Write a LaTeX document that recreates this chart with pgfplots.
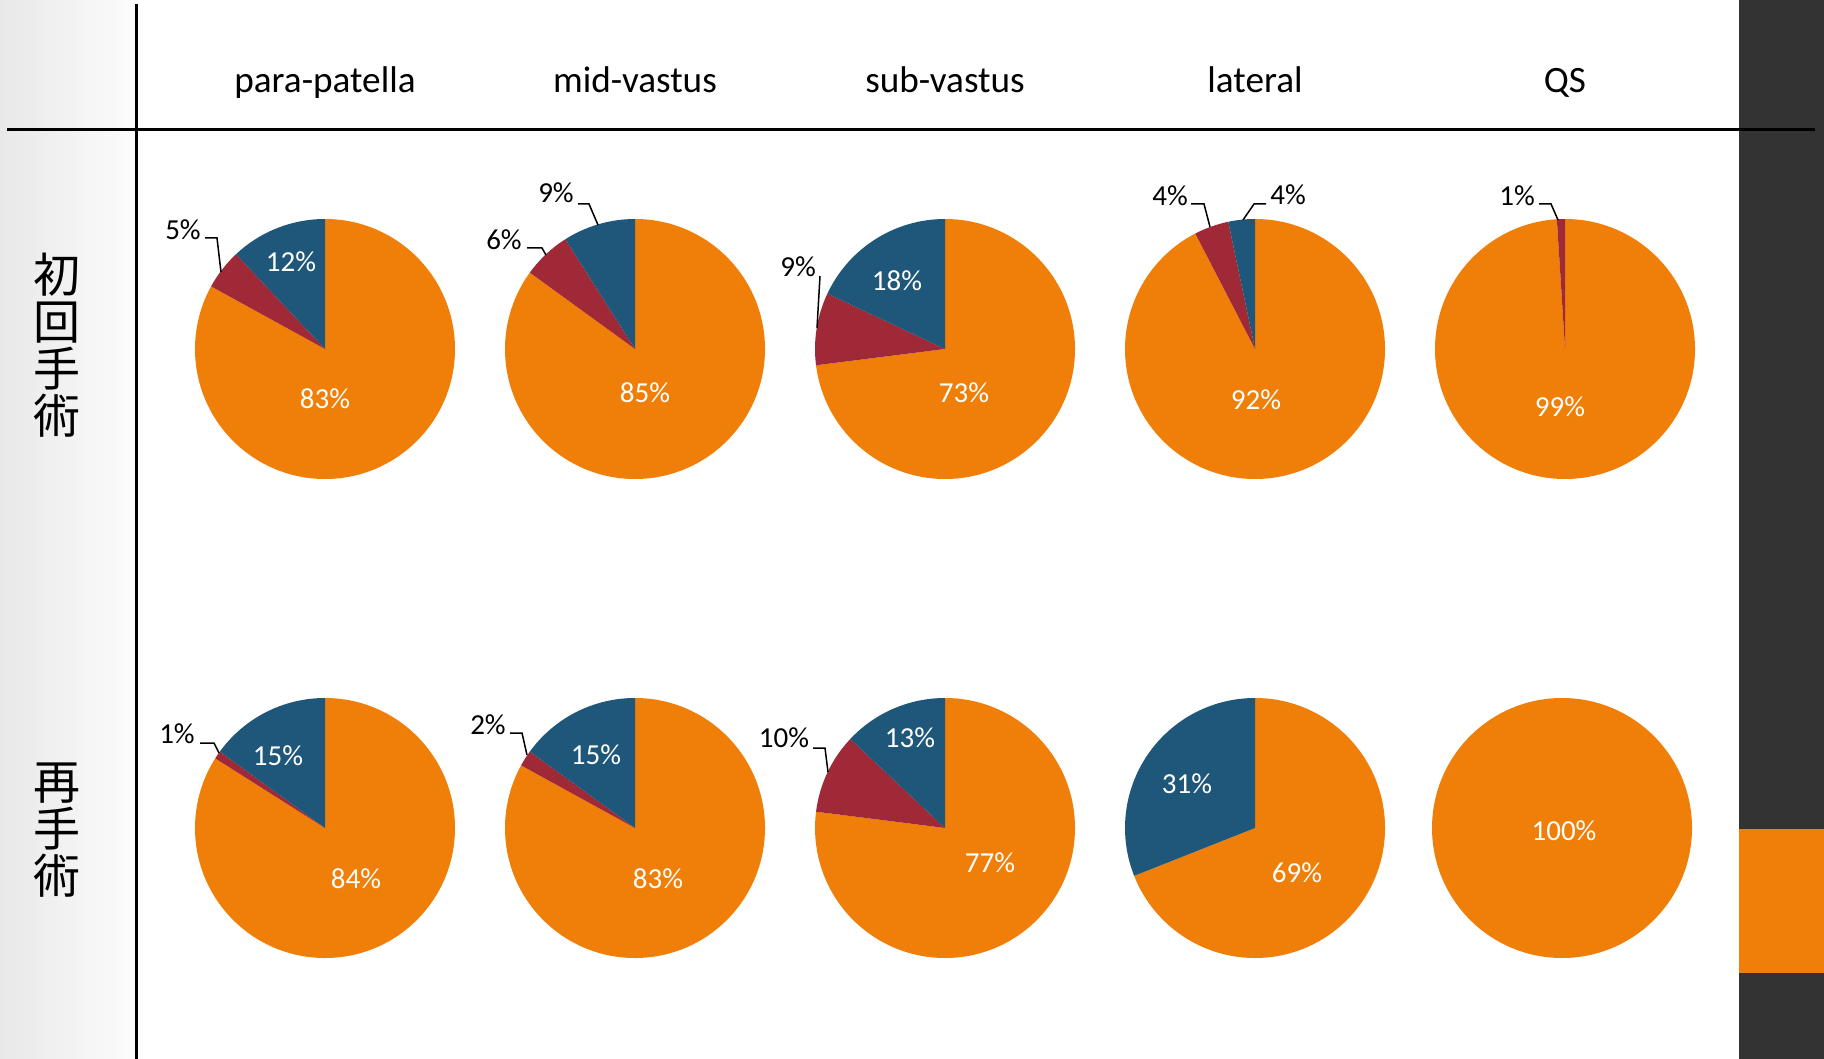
\documentclass[border=0pt]{standalone}
\usepackage{fontspec}
\setmainfont{Carlito}
\newfontfamily\cjk{Noto Sans CJK JP}
\usepackage{pgfplots}
\pgfplotsset{compat=1.18}

\definecolor{pieO}{RGB}{240,127,9}
\definecolor{pieR}{RGB}{159,41,54}
\definecolor{pieB}{RGB}{31,87,122}
\definecolor{strip}{RGB}{51,51,51}

% one pie: centre x, centre y, orange %, red %, blue % (clockwise from 12 o'clock)
\newcommand{\pie}[5]{%
  \ifdim#3pt<100pt
  \fill[pieO] (axis cs:#1,#2) -- ++(90:65pt)
    arc[start angle=90, delta angle={-3.6*#3}, radius=65pt] -- cycle;
  \else
  \fill[pieO] (axis cs:#1,#2) circle[radius=65pt];
  \fi
  \ifdim#4pt>0pt
  \fill[pieR] (axis cs:#1,#2) -- ++({90-3.6*#3}:65pt)
    arc[start angle={90-3.6*#3}, delta angle={-3.6*#4}, radius=65pt] -- cycle;
  \fi
  \ifdim#5pt>0pt
  \fill[pieB] (axis cs:#1,#2) -- ++({90-3.6*(#3+#4)}:65pt)
    arc[start angle={90-3.6*(#3+#4)}, delta angle={-3.6*#5}, radius=65pt] -- cycle;
  \fi
}
\newcommand{\pct}{\fontsize{14.5}{17}\selectfont}

\begin{document}
\begin{tikzpicture}
% page = the slide crop, 1824 x 1059 px at 0.5pt per px
\useasboundingbox (0,0) rectangle (912pt,529.5pt);
\fill[white] (0,0) rectangle (912pt,529.5pt);
% soft grey panel behind the row labels
\shade[left color=black!9, right color=black!1] (0,0) rectangle (68pt,529.5pt);

\begin{axis}[
    at={(0,0)}, anchor=south west,
    x=0.5pt, y=0.5pt,
    xmin=0, xmax=1824, ymin=0, ymax=1059,
    y dir=reverse,
    hide axis,
    clip=false,
]
\fill[strip] (axis cs:1739,0) rectangle (axis cs:1824,1059);
\fill[pieO] (axis cs:1739,829) rectangle (axis cs:1824,973);

% grid lines
\draw[line width=1.5pt] (axis cs:7,130) -- (axis cs:1815,130);
\draw[line width=1.5pt] (axis cs:136,4) -- (axis cs:136,1059);

% column headers
\foreach \xx/\name in {325/para-patella, 635/mid-vastus, 945/sub-vastus, 1255/lateral, 1565/QS}{
  \edef\tmp{\noexpand\node[anchor=base, font=\noexpand\fontsize{18.6}{21}\noexpand\selectfont]
    at (axis cs:\xx,93) {\name};}\tmp
}

% row labels
\node[align=center, font=\cjk\fontsize{23.5}{23.5}\selectfont, inner sep=0pt] at (axis cs:57,345) {初\\回\\手\\術};
\node[align=center, font=\cjk\fontsize{23.5}{23.5}\selectfont, inner sep=0pt] at (axis cs:57,830) {再\\手\\術};

% first operation
\pie{325}{349}{83}{5}{12}
\pie{635}{349}{85}{6}{9}
\pie{945}{349}{73}{9}{18}
\pie{1255}{349}{92.4}{4.3}{3.3}
\pie{1565}{349}{99}{1}{0}
% revision
\pie{325}{828}{84}{1}{15}
\pie{635}{828}{83}{2}{15}
\pie{945}{828}{77}{10}{13}
\pie{1255}{828}{69}{0}{31}
\pie{1562}{828}{100}{0}{0}

% inside labels
\begin{scope}[every node/.style={text=white, font=\pct, inner sep=0pt}]
\node at (axis cs:291,262) {12\%};
\node at (axis cs:325,399) {83\%};
\node at (axis cs:645,393) {85\%};
\node at (axis cs:897,281) {18\%};
\node at (axis cs:964,393) {73\%};
\node at (axis cs:1256,400) {92\%};
\node at (axis cs:1560,407) {99\%};
\node at (axis cs:278,756) {15\%};
\node at (axis cs:356,879) {84\%};
\node at (axis cs:596,755) {15\%};
\node at (axis cs:658,879) {83\%};
\node at (axis cs:910,738) {13\%};
\node at (axis cs:990,863) {77\%};
\node at (axis cs:1187,784) {31\%};
\node at (axis cs:1297,873) {69\%};
\node at (axis cs:1564,831) {100\%};
\end{scope}

% outside labels with leaders
\begin{scope}[every node/.style={text=black, font=\pct, inner sep=0pt}]
\node at (axis cs:183,230) {5\%};
\node at (axis cs:556,193) {9\%};
\node at (axis cs:504,240) {6\%};
\node at (axis cs:798,267) {9\%};
\node at (axis cs:1170,196) {4\%};
\node at (axis cs:1288,195) {4\%};
\node at (axis cs:1517,196) {1\%};
\node at (axis cs:177,734) {1\%};
\node at (axis cs:488,725) {2\%};
\node at (axis cs:784,738) {10\%};
\end{scope}
\begin{scope}[line width=0.75pt]
\draw (axis cs:205,238) -- (axis cs:217,238) -- (axis cs:221,272);
\draw (axis cs:578,204) -- (axis cs:589,204) -- (axis cs:598,225);
\draw (axis cs:527,248) -- (axis cs:542,248) -- (axis cs:546,255);
\draw (axis cs:820,276) -- (axis cs:817,328);
\draw (axis cs:1191,204) -- (axis cs:1204,204) -- (axis cs:1210,227);
\draw (axis cs:1266,204) -- (axis cs:1254,204) -- (axis cs:1243,220);
\draw (axis cs:1539,204) -- (axis cs:1551,204) -- (axis cs:1558,220);
\draw (axis cs:200,743) -- (axis cs:214,743) -- (axis cs:219,753);
\draw (axis cs:510,733) -- (axis cs:522,733) -- (axis cs:527,755);
\draw (axis cs:813,748) -- (axis cs:825,748) -- (axis cs:828,772);
\end{scope}
\end{axis}
\end{tikzpicture}
\end{document}
